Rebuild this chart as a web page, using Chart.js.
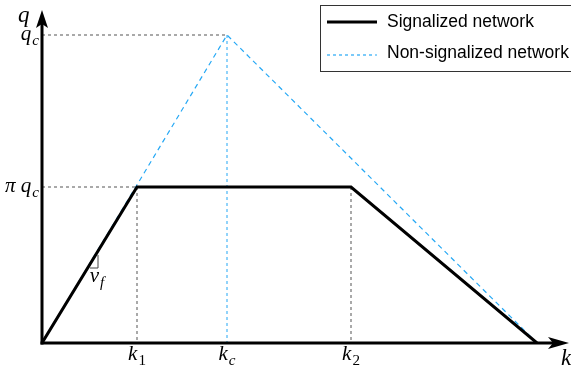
<!DOCTYPE html>
<html><head><meta charset="utf-8">
<script src="https://cdn.jsdelivr.net/npm/chart.js@4/dist/chart.umd.min.js"></script>
<style>html,body{margin:0;padding:0;background:#fff}#wrap{width:571px;height:370px}</style>
</head><body><div id="wrap"><canvas id="c" width="571" height="370"></canvas></div>
<script>
// Key densities (x) and flows (y)
const kNames = ['k1', 'kc', 'k2'];
const kValues = [95, 185, 309];
const kJam = 495;
const qNames = ['qc', 'πqc'];
const qValues = [308, 156];
const seriesNames = ['Signalized network', 'Non-signalized network'];
const xMax = 527, yMax = 333;

const k1 = kValues[0], kc = kValues[1], k2 = kValues[2];
const qc = qValues[0], piqc = qValues[1];

const signalized = [{x:0,y:0},{x:k1,y:piqc},{x:k2,y:piqc},{x:kJam,y:0}];
const nonSignalized = [{x:0,y:0},{x:kc,y:qc},{x:kJam,y:0}];
const BLUE = '#25a8f5';
const GREY = '#555555';

function guide(pts, color){
  return {data: pts, borderColor: color, borderWidth: 1, borderDash: [3,3], pointRadius: 0, fill:false, tension:0, isGuide:true};
}

const datasets = [
  {label: seriesNames[0], data: signalized, borderColor:'#000', borderWidth:3, pointRadius:0, fill:false, tension:0, borderJoinStyle:'miter'},
  {label: seriesNames[1], data: nonSignalized, borderColor:BLUE, borderWidth:1.2, borderDash:[5,4], pointRadius:0, fill:false, tension:0},
  guide([{x:0,y:qc},{x:kc,y:qc}], GREY),
  guide([{x:0,y:piqc},{x:k1,y:piqc}], GREY),
  guide([{x:k1,y:piqc},{x:k1,y:0}], GREY),
  guide([{x:k2,y:piqc},{x:k2,y:0}], GREY),
  guide([{x:kc,y:qc},{x:kc,y:0}], BLUE)
];

function mathLabel(ctx, base, sub, x, y, size, align){
  const subSize = size*0.72;
  const subFont = (/[0-9]/.test(sub) ? '' : 'italic ') + subSize + 'px "Liberation Serif"';
  ctx.font = 'italic ' + size + 'px "Liberation Serif"';
  const wb = ctx.measureText(base).width;
  ctx.font = subFont;
  const ws = sub ? ctx.measureText(sub).width : 0;
  const total = wb + ws + 1;
  let x0 = align === 'right' ? x - total : (align === 'left' ? x : x - total/2);
  ctx.fillStyle = '#000';
  ctx.textBaseline = 'alphabetic';
  ctx.textAlign = 'left';
  ctx.font = 'italic ' + size + 'px "Liberation Serif"';
  ctx.fillText(base, x0, y);
  if (sub){
    ctx.font = subFont;
    ctx.fillText(sub, x0 + wb + 1, y + size*0.25);
  }
}

const decor = {
  id: 'decor',
  afterDatasetsDraw(chart){
    const ctx = chart.ctx, xs = chart.scales.x, ys = chart.scales.y;
    const ox = xs.getPixelForValue(0), oy = ys.getPixelForValue(0);
    const top = chart.chartArea.top, right = chart.chartArea.right;
    ctx.save();
    // axes
    ctx.strokeStyle = '#000'; ctx.fillStyle = '#000'; ctx.lineWidth = 3;
    ctx.beginPath(); ctx.moveTo(ox, oy+1.5); ctx.lineTo(ox, top+12); ctx.stroke();
    ctx.beginPath(); ctx.moveTo(ox-1.5, oy); ctx.lineTo(right-12, oy); ctx.stroke();
    ctx.beginPath();
    ctx.moveTo(ox, top); ctx.lineTo(ox-6, top+18); ctx.lineTo(ox, top+14); ctx.lineTo(ox+6, top+18); ctx.closePath(); ctx.fill();
    ctx.beginPath();
    ctx.moveTo(right, oy); ctx.lineTo(right-21, oy-6); ctx.lineTo(right-16, oy); ctx.lineTo(right-21, oy+6); ctx.closePath(); ctx.fill();
    // v_f slope triangle
    ctx.lineWidth = 1; ctx.strokeStyle = '#444';
    ctx.beginPath(); ctx.moveTo(90, 268); ctx.lineTo(98, 268); ctx.lineTo(98, 255); ctx.stroke();
    // axis labels
    mathLabel(ctx, 'q', '', ox-24, top+12, 23, 'left');
    mathLabel(ctx, 'k', '', right-8, oy+22, 23, 'left');
    const subs = {k1:'1', kc:'c', k2:'2'};
    kNames.forEach((n,i)=>{
      mathLabel(ctx, 'k', subs[n], xs.getPixelForValue(kValues[i]), oy+17, 21);
    });
    mathLabel(ctx, 'q', 'c', ox-3, ys.getPixelForValue(qc)+5, 21, 'right');
    mathLabel(ctx, 'π q', 'c', ox-3, ys.getPixelForValue(piqc)+5, 21, 'right');
    mathLabel(ctx, 'v', 'f', 97, 282, 21);
    // legend
    ctx.lineWidth = 1; ctx.strokeStyle = '#333'; ctx.setLineDash([]);
    ctx.strokeRect(320.5, 5.5, 260, 66);
    ctx.font = '17.5px "Liberation Sans"'; ctx.fillStyle = '#000'; ctx.textBaseline='middle'; ctx.textAlign='left';
    const rows = [22, 53];
    chart.data.datasets.slice(0,2).forEach((d,i)=>{
      ctx.strokeStyle = d.borderColor; ctx.lineWidth = i===0 ? 3 : 1.2;
      ctx.setLineDash(i===0 ? [] : [3,3]);
      ctx.beginPath(); ctx.moveTo(327, rows[i]+(i?2:0)); ctx.lineTo(377, rows[i]+(i?2:0)); ctx.stroke();
      ctx.setLineDash([]);
      ctx.fillStyle = '#000';
      ctx.fillText(d.label, 387, rows[i]);
    });
    ctx.restore();
  }
};

new Chart(document.getElementById('c'), {
  type: 'line',
  data: { datasets },
  options: {
    responsive: false, animation: false,
    layout: { padding: { left: 42, right: 2, top: 10, bottom: 27 } },
    scales: {
      x: { type:'linear', min:0, max:xMax, display:false },
      y: { type:'linear', min:0, max:yMax, display:false }
    },
    plugins: { legend:{display:false}, tooltip:{enabled:false} }
  },
  plugins: [decor]
});
</script>
</body></html>
